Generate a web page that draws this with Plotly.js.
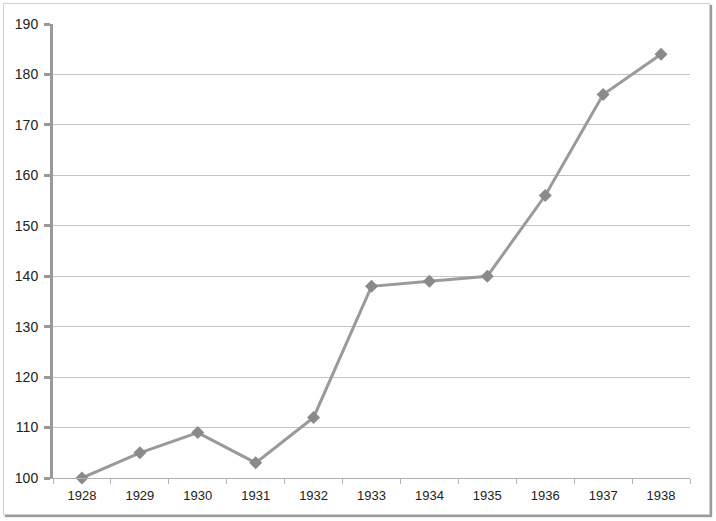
<!DOCTYPE html>
<html>
<head>
<meta charset="utf-8">
<script src="https://cdn.plot.ly/plotly-3.0.1.min.js"></script>
<style>
html,body{margin:0;padding:0;background:#fff;}
#frame{position:absolute;left:3px;top:3px;width:705px;height:510px;border:1px solid #d0d0d0;box-shadow:2px 2px 1px #9a9a9a;background:#fff;}
#chart{position:absolute;left:0;top:0;width:716px;height:521px;}
</style>
</head>
<body>
<div id="frame"></div>
<div id="chart"></div>
<script>
const years = ['1928','1929','1930','1931','1932','1933','1934','1935','1936','1937','1938'];
const values = [100, 105, 109, 103, 112, 138, 139, 140, 156, 176, 184];
const yTicks = [100,110,120,130,140,150,160,170,180,190];

Plotly.newPlot('chart', [{
  type: 'scatter',
  mode: 'lines+markers',
  x: years,
  y: values,
  line: {color: '#9a9a9a', width: 3},
  marker: {symbol: 'diamond', size: 10, color: '#8a8a8a'},
  cliponaxis: false,
  hoverinfo: 'x+y'
}], {
  width: 716, height: 521,
  margin: {l: 53, r: 26, t: 24, b: 43},
  paper_bgcolor: 'rgba(0,0,0,0)',
  plot_bgcolor: 'rgba(0,0,0,0)',
  showlegend: false,
  font: {family: 'Liberation Sans, Arial, sans-serif', size: 13, color: '#222'},
  xaxis: {
    type: 'category',
    range: [-0.5, 10.5],
    tickson: 'boundaries',
    ticks: 'outside', ticklen: 5, tickcolor: '#b0b0b0', tickwidth: 1,
    showline: true, linecolor: '#b0b0b0', linewidth: 1,
    showgrid: false, zeroline: false,
    ticklabelstandoff: 5,
    tickfont: {size: 13}
  },
  yaxis: {
    range: [100, 190],
    tickvals: yTicks,
    ticktext: yTicks.map(String),
    ticks: 'outside', ticklen: 6, tickcolor: '#999', tickwidth: 3,
    showline: true, linecolor: '#999', linewidth: 3,
    showgrid: true, gridcolor: '#c4c4c4', gridwidth: 1,
    zeroline: false,
    ticklabelstandoff: 3,
    tickfont: {size: 14}
  }
}, {displayModeBar: false, staticPlot: true});
</script>
</body>
</html>
